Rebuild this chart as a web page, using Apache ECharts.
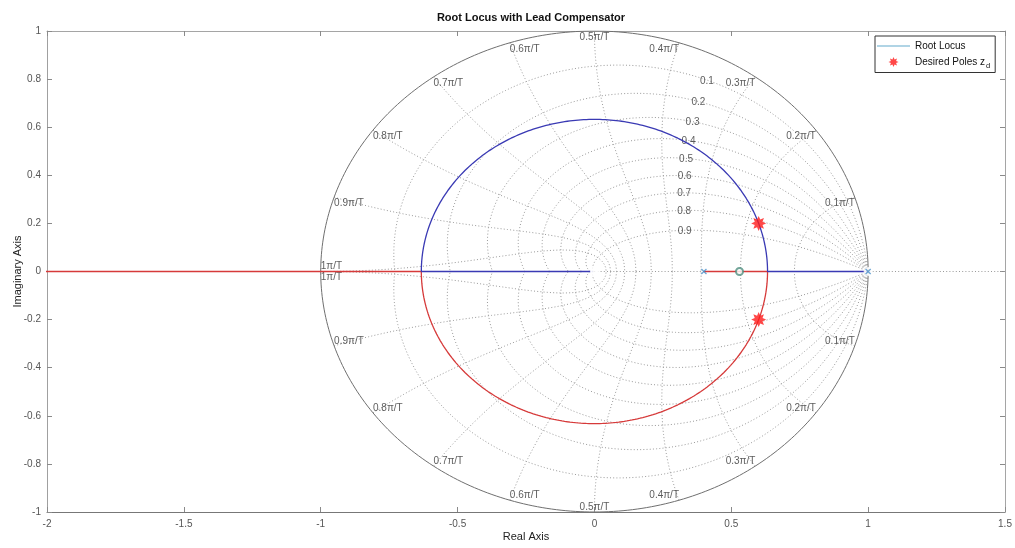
<!DOCTYPE html>
<html><head><meta charset="utf-8">
<script src="https://cdn.jsdelivr.net/npm/echarts@6/dist/echarts.min.js"></script>
<style>html,body{margin:0;padding:0;background:#fff}#c{width:1015px;height:548px}</style>
</head><body><div id="c"></div>
<script>
// ---------------- data ----------------
const openLoopPoles = [1, 0.4];          // 'x' marks
const openLoopZeros = [0];               // 'o' mark
const extraMarkAt1 = [1];                // 'o' drawn at z = 1
const compensatorMark = [0.53];          // dark circle on real axis
const desiredPoles = [[0.6, 0.2], [0.6, -0.2]];
const xTickValues = [-2, -1.5, -1, -0.5, 0, 0.5, 1, 1.5];
const yTickValues = [-1, -0.8, -0.6, -0.4, -0.2, 0, 0.2, 0.4, 0.6, 0.8, 1];
const zetaValues = [0.1, 0.2, 0.3, 0.4, 0.5, 0.6, 0.7, 0.8, 0.9];
const wnMultiples = [1, 2, 3, 4, 5, 6, 7, 8, 9, 10];   // k * 0.1*pi/T
const wnLabels = ['0.1π/T','0.2π/T','0.3π/T','0.4π/T','0.5π/T','0.6π/T','0.7π/T','0.8π/T','0.9π/T','1π/T'];

// ---------------- root locus from the open-loop poles/zeros ----------------
const p1 = openLoopPoles[0], p2 = openLoopPoles[1], z1 = openLoopZeros[0];
// (z-p1)(z-p2) + K (z - z1) = 0  ->  z^2 + (K-p1-p2) z + (p1 p2 - K z1) = 0
function clRoots(K) {
  const b = K - p1 - p2, c = p1 * p2 - K * z1, D = b * b - 4 * c;
  if (D >= 0) { const s = Math.sqrt(D); return { real: true, r1: (-b + s) / 2, r2: (-b - s) / 2 }; }
  return { real: false, re: -b / 2, im: Math.sqrt(-D) / 2 };
}
const qa = 1, qb = -2 * (p1 + p2) + 4 * z1, qc = (p1 + p2) * (p1 + p2) - 4 * p1 * p2;
const qs = Math.sqrt(qb * qb - 4 * qa * qc);
const Kb1 = (-qb - qs) / 2, Kb2 = (-qb + qs) / 2;
const gains = [];
for (let i = 0; i <= 200; i++) gains.push(Kb1 * i / 200);
for (let i = 1; i < 600; i++) gains.push(Kb1 + (Kb2 - Kb1) * (1 - Math.cos(Math.PI * i / 600)) / 2);
for (let i = 0; i <= 400; i++) gains.push(Kb2 + (Math.exp(8 * i / 400) - 1) * 0.02);
const blueLocus = [], redLocus = [];
gains.forEach(K => {
  const r = clRoots(K);
  if (r.real) { blueLocus.push([r.r1, 0]); redLocus.push([Math.max(r.r2, -2.2), 0]); }
  else { blueLocus.push([r.re, r.im]); redLocus.push([r.re, -r.im]); }
});

// ---------------- z-plane grid (zgrid) ----------------
const gridLines = [];
zetaValues.forEach(zeta => {
  const m = zeta / Math.sqrt(1 - zeta * zeta);
  const up = [], dn = [];
  for (let i = 0; i <= 200; i++) {
    const t = Math.PI * i / 200, rr = Math.exp(-m * t);
    up.push([rr * Math.cos(t), rr * Math.sin(t)]);
    dn.push([rr * Math.cos(t), -rr * Math.sin(t)]);
  }
  gridLines.push(up, dn);
});
wnMultiples.forEach(k => {
  const w = k * Math.PI / 10;
  const up = [], dn = [];
  for (let i = 0; i <= 120; i++) {
    const zeta = i / 120, rr = Math.exp(-zeta * w), a = w * Math.sqrt(1 - zeta * zeta);
    up.push([rr * Math.cos(a), rr * Math.sin(a)]);
    dn.push([rr * Math.cos(a), -rr * Math.sin(a)]);
  }
  gridLines.push(up, dn);
});
const unitCircle = [];
for (let i = 0; i <= 360; i++) { const a = Math.PI * i / 180; unitCircle.push([Math.cos(a), Math.sin(a)]); }

const wnLabelData = [];
wnMultiples.forEach((k, idx) => {
  const a = k * Math.PI / 10, x = Math.cos(a), y = Math.sin(a);
  const h = Math.abs(x) < 1e-6 ? 'center' : (x > 0 ? 'right' : 'left');
  if (k === 10) {
    wnLabelData.push({ value: [-1, 0], name: wnLabels[idx], label: { align: 'left', verticalAlign: 'bottom', offset: [0, 0] } });
    wnLabelData.push({ value: [-1, 0], name: wnLabels[idx], label: { align: 'left', verticalAlign: 'top', offset: [0, 1] } });
  } else {
    wnLabelData.push({ value: [x, y], name: wnLabels[idx], label: { align: h, verticalAlign: 'top', offset: [0, 1] } });
    wnLabelData.push({ value: [x, -y], name: wnLabels[idx], label: { align: h, verticalAlign: 'bottom', offset: [0, 0] } });
  }
});
const zetaLabelData = zetaValues.map(zeta => {
  const w = 0.35 * Math.PI, rr = Math.exp(-zeta * w), a = w * Math.sqrt(1 - zeta * zeta);
  return { value: [rr * Math.cos(a), rr * Math.sin(a)], name: String(zeta) };
});

// ---------------- symbols ----------------
function starPts(cx, cy, R, r) {
  let s = '';
  for (let i = 0; i < 16; i++) {
    const ang = Math.PI * i / 8 - Math.PI / 2, rad = i % 2 === 0 ? R : r;
    s += (i === 0 ? 'M' : 'L') + (cx + rad * Math.cos(ang)).toFixed(3) + ',' + (cy + rad * Math.sin(ang)).toFixed(3);
  }
  return s + 'Z';
}
const starSymbol = 'path://' + starPts(10, 10, 10, 5.6);
const xSymbol = 'path://M0,1.5L1.5,0L5,3.5L8.5,0L10,1.5L6.5,5L10,8.5L8.5,10L5,6.5L1.5,10L0,8.5L3.5,5Z';
const corner = 'M0,0h0.01v0.01h-0.01z M32.99,13.99h0.01v0.01h-0.01z ';
const legendLineIcon = 'path://' + corner + 'M0,6.4h33v1.2h-33z';
const legendStarIcon = 'path://' + corner + starPts(16.5, 7, 5, 2.8);

const FONT = 'Liberation Sans, Arial, Helvetica, sans-serif';
const series = [];
gridLines.forEach(pts => series.push({
  type: 'line', data: pts, showSymbol: false, silent: true, z: 1,
  lineStyle: { color: '#9a9a9a', width: 1, type: [1, 2.2] }
}));
series.push({ type: 'line', data: [[-2, 0], [1.5, 0]], showSymbol: false, silent: true, z: 0,
  lineStyle: { color: '#9a9a9a', width: 1, type: [1, 2.2] } });
series.push({ type: 'line', data: unitCircle, showSymbol: false, silent: true, z: 2,
  lineStyle: { color: '#6f6f6f', width: 1 } });
series.push({ type: 'scatter', data: wnLabelData, symbolSize: 0, silent: true, z: 3,
  label: { show: true, position: 'inside', formatter: p => p.name, color: '#333', fontSize: 10, fontFamily: FONT } });
series.push({ type: 'scatter', data: zetaLabelData, symbolSize: 0, silent: true, z: 3,
  label: { show: true, position: 'inside', align: 'center', verticalAlign: 'middle', offset: [0, 1],
    formatter: p => p.name, color: '#333', fontSize: 10, fontFamily: FONT } });
series.push({ type: 'line', data: redLocus, showSymbol: false, z: 5, clip: true,
  lineStyle: { color: '#d63a3a', width: 1.3 } });
series.push({ type: 'line', data: blueLocus, showSymbol: false, z: 5, clip: true,
  lineStyle: { color: '#3a3ab4', width: 1.3 } });
series.push({ name: 'Root Locus', type: 'line', data: [], itemStyle: { color: '#62a9cc' }, lineStyle: { color: '#62a9cc' } });
series.push({ type: 'scatter', data: openLoopZeros.map(v => [v, 0]).concat(extraMarkAt1.map(v => [v, 0])), z: 6,
  symbol: 'emptyCircle', symbolSize: 7, itemStyle: { color: '#fff', borderColor: '#3f8fd0', borderWidth: 1.3 } });
series.push({ type: 'scatter', data: openLoopPoles.map(v => [v, 0]), z: 7,
  symbol: xSymbol, symbolSize: 6, itemStyle: { color: '#4a90c8' } });
series.push({ type: 'scatter', data: compensatorMark.map(v => [v, 0]), z: 7,
  symbol: 'emptyCircle', symbolSize: 7, itemStyle: { color: '#4f8f80', borderColor: '#1f4f47', borderWidth: 1.6 } });
series.push({ name: 'Desired Poles', type: 'scatter', data: desiredPoles, z: 8,
  symbol: starSymbol, symbolSize: 15, itemStyle: { color: '#ff1a1a' } });

const axisCommon = {
  type: 'value', splitLine: { show: false },
  axisTick: { show: true, inside: true, length: 5, lineStyle: { color: '#8a8a8a' } },
};
const option = {
  animation: false,
  backgroundColor: '#fff',
  title: { text: 'Root Locus with Lead Compensator', left: 526, top: 7, textAlign: 'center',
    textStyle: { fontSize: 11, fontWeight: 'bold', color: '#111', fontFamily: FONT } },
  grid: { left: 47, right: 10, top: 31, bottom: 36, containLabel: false, outerBoundsMode: 'none' },
  legend: {
    left: 875, top: 36, orient: 'vertical', padding: [3, 5, 3, 2], itemGap: 2, itemWidth: 33, itemHeight: 14,
    borderColor: '#333', borderWidth: 1, backgroundColor: '#fff', selectedMode: false,
    data: [{ name: 'Root Locus', icon: legendLineIcon }, { name: 'Desired Poles', icon: legendStarIcon }],
    formatter: n => n === 'Desired Poles' ? 'Desired Poles z{sub|d}' : n,
    textStyle: { fontSize: 10, color: '#111', fontFamily: FONT,
      rich: { sub: { fontSize: 7.5, color: '#111', fontFamily: FONT, padding: [7, 0, 0, 1] } } }
  },
  xAxis: [
    Object.assign({}, axisCommon, { min: -2, max: 1.5, interval: 0.5, position: 'bottom',
      name: 'Real Axis', nameLocation: 'middle', nameGap: 19, nameMoveOverlap: false,
      nameTextStyle: { fontSize: 11, color: '#222', fontFamily: FONT },
      axisLine: { show: true, onZero: false, lineStyle: { color: '#777' } },
      axisLabel: { margin: 7, fontSize: 10, color: '#555', fontFamily: FONT, formatter: v => String(Math.round(v * 10) / 10) } }),
    Object.assign({}, axisCommon, { min: -2, max: 1.5, interval: 0.5, position: 'top',
      axisLine: { show: true, onZero: false, lineStyle: { color: '#a5a5a5' } }, axisLabel: { show: false } })
  ],
  yAxis: [
    Object.assign({}, axisCommon, { min: -1, max: 1, interval: 0.2, position: 'left',
      name: 'Imaginary Axis', nameLocation: 'middle', nameGap: 24, nameMoveOverlap: false,
      nameTextStyle: { fontSize: 11, color: '#222', fontFamily: FONT },
      axisLine: { show: true, onZero: false, lineStyle: { color: '#a0a0a0' } },
      axisLabel: { margin: 6, fontSize: 10, color: '#555', fontFamily: FONT, formatter: v => String(Math.round(v * 10) / 10) } }),
    Object.assign({}, axisCommon, { min: -1, max: 1, interval: 0.2, position: 'right',
      axisLine: { show: true, onZero: false, lineStyle: { color: '#a5a5a5' } }, axisLabel: { show: false } })
  ],
  series: series
};
const chart = echarts.init(document.getElementById('c'), null, { renderer: 'canvas' });
chart.setOption(option);
</script>
</body></html>
